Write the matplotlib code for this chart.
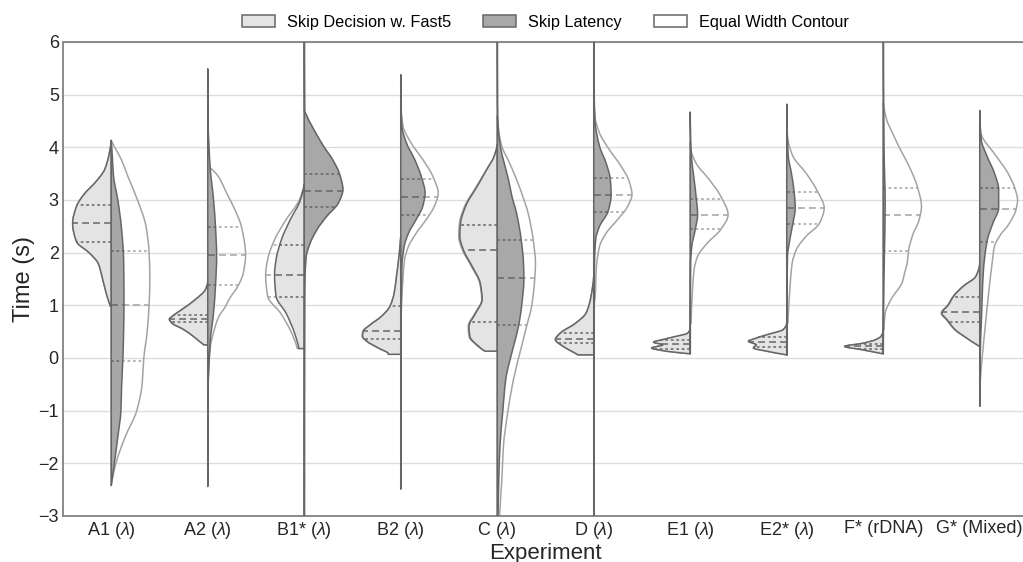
import numpy as np
import matplotlib
matplotlib.use("Agg")
import matplotlib.pyplot as plt
from matplotlib.path import Path
from matplotlib.patches import PathPatch, Patch

plt.rcParams["font.family"] = ["Liberation Sans", "DejaVu Sans"]
plt.rcParams["mathtext.fontset"] = "custom"
plt.rcParams["mathtext.rm"] = "Liberation Sans"
plt.rcParams["mathtext.it"] = "Liberation Sans:italic"

# ---------------------------------------------------------------- data
experiments = ["A1 ($\\lambda$)", "A2 ($\\lambda$)", "B1* ($\\lambda$)", "B2 ($\\lambda$)",
               "C ($\\lambda$)", "D ($\\lambda$)", "E1 ($\\lambda$)", "E2* ($\\lambda$)",
               "F* (rDNA)", "G* (Mixed)"]

# Skip decision with Fast5: density profile (time in s, relative half width)
decision_time = [
    [0.98, 1.23, 1.55, 1.80, 1.99, 2.21, 2.56, 2.88, 3.13, 3.32, 3.58, 3.85, 4.13],
    [0.25, 0.32, 0.41, 0.54, 0.66, 0.74, 0.79, 0.92, 1.11, 1.30, 1.45],
    [0.18, 0.22, 0.47, 0.85, 1.17, 1.58, 1.87, 2.25, 2.63, 3.00, 3.30],
    [0.07, 0.08, 0.19, 0.32, 0.41, 0.51, 0.63, 0.79, 0.98, 1.23, 1.55, 1.90, 2.30],
    [0.13, 0.22, 0.41, 0.60, 0.85, 1.11, 1.42, 1.74, 2.06, 2.31, 2.56, 2.88, 3.26, 3.58, 3.83, 4.05],
    [0.06, 0.10, 0.22, 0.35, 0.47, 0.66, 0.85, 1.17, 1.55],
    [0.08, 0.14, 0.19, 0.25, 0.30, 0.35, 0.41, 0.47, 0.56],
    [0.06, 0.13, 0.19, 0.25, 0.32, 0.36, 0.44, 0.54, 0.66],
    [0.08, 0.16, 0.22, 0.28, 0.35, 0.41, 0.52],
    [0.22, 0.25, 0.38, 0.54, 0.73, 0.85, 1.01, 1.17, 1.36, 1.55, 1.80],
]
decision_width = [
    [0.02, 0.13, 0.24, 0.34, 0.56, 0.90, 1.00, 0.90, 0.68, 0.43, 0.17, 0.06, 0.00],
    [0.10, 0.22, 0.37, 0.62, 0.92, 0.99, 0.92, 0.67, 0.32, 0.06, 0.00],
    [0.14, 0.15, 0.25, 0.47, 0.73, 0.77, 0.73, 0.59, 0.36, 0.10, 0.00],
    [0.32, 0.32, 0.58, 0.88, 0.99, 0.97, 0.79, 0.50, 0.28, 0.17, 0.11, 0.05, 0.00],
    [0.32, 0.48, 0.71, 0.73, 0.56, 0.39, 0.44, 0.65, 0.88, 0.97, 0.95, 0.82, 0.52, 0.27, 0.08, 0.00],
    [0.41, 0.50, 0.79, 0.99, 0.87, 0.47, 0.20, 0.07, 0.00],
    [0.00, 0.71, 1.00, 0.71, 0.95, 0.71, 0.37, 0.07, 0.00],
    [0.00, 0.52, 0.86, 0.79, 0.99, 0.86, 0.52, 0.09, 0.00],
    [0.00, 0.57, 1.00, 0.53, 0.19, 0.06, 0.00],
    [0.00, 0.07, 0.34, 0.64, 0.85, 0.98, 0.81, 0.68, 0.43, 0.10, 0.00],
]
decision_quartiles = [
    [2.21, 2.56, 2.90], [0.69, 0.75, 0.81], [1.16, 1.58, 2.15], [0.37, 0.52, 0.98],
    [0.69, 2.06, 2.53], [0.28, 0.36, 0.47], [0.18, 0.27, 0.34], [0.20, 0.31, 0.39],
    [0.17, 0.22, 0.27], [0.68, 0.88, 1.16],
]

# Skip latency: density profile (count scaled)
latency_time = [
    [-2.42, -2.0, -1.5, -1.0, -0.5, -0.03, 0.5, 1.0, 1.87, 2.5, 3.0, 3.45, 3.8, 4.13],
    [-2.44, -1.5, -0.66, 0.29, 0.86, 1.36, 1.93, 2.5, 3.0, 3.64, 4.5, 5.49],
    [-3.5, 1.0, 1.55, 1.93, 2.18, 2.44, 2.69, 2.94, 3.20, 3.48, 3.77, 4.02, 4.40, 4.62, 4.70, 6.5],
    [-2.49, -1.0, 0.5, 1.74, 2.12, 2.37, 2.63, 2.88, 3.13, 3.45, 3.77, 4.08, 4.40, 5.38],
    [-3.5, -3.0, -2.3, -1.68, -1.04, -0.41, 0.22, 0.60, 0.98, 1.49, 1.80, 2.25, 2.75, 3.07,
     3.39, 3.70, 4.02, 4.33, 4.8, 6.5],
    [-3.5, 1.0, 1.8, 2.25, 2.50, 2.78, 3.10, 3.39, 3.70, 4.02, 4.52, 5.2, 6.5],
    [0.08, 1.0, 1.80, 2.12, 2.44, 2.72, 3.07, 3.45, 3.83, 4.2, 4.67],
    [0.05, 1.0, 1.93, 2.25, 2.56, 2.85, 3.16, 3.51, 3.83, 4.14, 4.82],
    [0.08, 1.0, 2.0, 2.9, 4.0, 6.5],
    [-0.92, 0.28, 0.66, 1.30, 1.61, 1.93, 2.25, 2.56, 2.85, 3.20, 3.51, 3.83, 4.14, 4.70],
]
latency_width = [
    [0.0, 0.08, 0.17, 0.25, 0.27, 0.30, 0.32, 0.33, 0.32, 0.26, 0.17, 0.06, 0.03, 0.0],
    [0.0, 0.005, 0.01, 0.06, 0.15, 0.20, 0.23, 0.20, 0.15, 0.06, 0.01, 0.0],
    [0.005, 0.01, 0.02, 0.05, 0.15, 0.33, 0.58, 0.88, 1.0, 0.92, 0.73, 0.50, 0.20, 0.05, 0.01, 0.005],
    [0.0, 0.005, 0.01, 0.03, 0.09, 0.20, 0.40, 0.57, 0.63, 0.53, 0.36, 0.15, 0.03, 0.0],
    [0.005, 0.02, 0.04, 0.07, 0.14, 0.22, 0.42, 0.55, 0.63, 0.69, 0.68, 0.62, 0.50, 0.38,
     0.29, 0.18, 0.08, 0.03, 0.01, 0.005],
    [0.005, 0.01, 0.02, 0.05, 0.15, 0.37, 0.45, 0.43, 0.32, 0.15, 0.03, 0.01, 0.005],
    [0.0, 0.005, 0.01, 0.04, 0.13, 0.19, 0.15, 0.09, 0.03, 0.01, 0.0],
    [0.0, 0.005, 0.02, 0.08, 0.16, 0.22, 0.19, 0.12, 0.04, 0.02, 0.0],
    [0.0, 0.01, 0.03, 0.05, 0.02, 0.005],
    [0.0, 0.02, 0.04, 0.07, 0.09, 0.13, 0.20, 0.34, 0.49, 0.49, 0.38, 0.19, 0.04, 0.0],
]
latency_quartiles = [
    [-0.05, 1.00, 2.03], [1.39, 1.96, 2.49], [2.87, 3.18, 3.49], [2.72, 3.06, 3.40],
    [0.62, 1.51, 2.25], [2.78, 3.10, 3.42], [2.44, 2.72, 3.02], [2.54, 2.85, 3.16],
    [2.03, 2.72, 3.23], [2.20, 2.83, 3.23],
]

# Skip latency drawn at equal width (outline only)
contour_time = [
    [-2.42, -2.0, -1.5, -1.0, -0.5, -0.03, 0.5, 1.0, 1.5, 2.0, 2.5, 3.0, 3.45, 3.77, 4.0, 4.13],
    [-0.6, -0.16, 0.22, 0.54, 0.79, 0.98, 1.11, 1.39, 1.61, 1.96, 2.5, 2.82, 3.13, 3.45, 3.64],
    [-3.5, 1.0, 1.55, 1.93, 2.18, 2.44, 2.69, 2.94, 3.20, 3.48, 3.77, 4.02, 4.40, 4.62, 4.70, 6.5],
    [0.5, 1.0, 1.55, 1.87, 2.12, 2.37, 2.63, 2.88, 3.13, 3.45, 3.77, 4.08, 4.40, 4.8],
    [-3.5, -3.0, -2.31, -1.68, -1.04, -0.41, 0.22, 0.60, 0.98, 1.49, 1.80, 2.25, 2.75, 3.07,
     3.39, 3.70, 4.02, 4.3, 4.6],
    [1.0, 1.11, 1.74, 2.12, 2.37, 2.63, 2.88, 3.10, 3.35, 3.64, 3.95, 4.27, 4.59, 5.0],
    [0.66, 1.30, 1.68, 1.93, 2.18, 2.44, 2.72, 3.07, 3.39, 3.70, 3.95, 4.1],
    [0.66, 1.30, 1.80, 2.06, 2.31, 2.56, 2.85, 3.16, 3.51, 3.83, 4.14, 4.3],
    [0.54, 0.85, 1.11, 1.45, 1.61, 1.80, 2.06, 2.37, 2.60, 2.88, 3.26, 3.64, 3.95, 4.27,
     4.52, 4.71, 4.85],
    [-0.6, -0.28, 0.22, 0.66, 1.30, 1.80, 2.12, 2.31, 2.56, 2.82, 3.0, 3.20, 3.51, 3.83, 4.27, 4.45],
]
contour_width = [
    [0.0, 0.12, 0.36, 0.66, 0.80, 0.84, 0.93, 0.98, 1.0, 0.98, 0.90, 0.68, 0.43, 0.26, 0.09, 0.0],
    [0.0, 0.03, 0.07, 0.17, 0.29, 0.46, 0.55, 0.80, 0.92, 0.98, 0.87, 0.70, 0.49, 0.27, 0.02],
    [0.005, 0.01, 0.02, 0.05, 0.15, 0.33, 0.58, 0.88, 1.0, 0.92, 0.73, 0.50, 0.20, 0.05, 0.01, 0.005],
    [0.0, 0.02, 0.06, 0.10, 0.20, 0.40, 0.66, 0.87, 0.97, 0.83, 0.57, 0.27, 0.06, 0.0],
    [0.04, 0.06, 0.12, 0.16, 0.27, 0.42, 0.63, 0.76, 0.89, 0.97, 0.99, 0.93, 0.80, 0.66,
     0.50, 0.32, 0.12, 0.04, 0.0],
    [0.0, 0.03, 0.07, 0.15, 0.32, 0.62, 0.88, 0.99, 0.92, 0.71, 0.41, 0.15, 0.03, 0.0],
    [0.02, 0.06, 0.10, 0.19, 0.44, 0.79, 0.98, 0.79, 0.49, 0.15, 0.02, 0.0],
    [0.03, 0.08, 0.14, 0.25, 0.50, 0.85, 0.97, 0.80, 0.50, 0.16, 0.03, 0.0],
    [0.02, 0.05, 0.20, 0.50, 0.55, 0.62, 0.66, 0.78, 0.92, 0.99, 0.88, 0.67, 0.45, 0.24,
     0.09, 0.03, 0.0],
    [0.0, 0.03, 0.09, 0.15, 0.24, 0.32, 0.38, 0.51, 0.77, 0.94, 0.98, 0.92, 0.73, 0.43, 0.03, 0.0],
]

legend_labels = ["Skip Decision w. Fast5", "Skip Latency", "Equal Width Contour"]

# ---------------------------------------------------------------- style
LIGHT = "#e4e4e4"
DARK = "#a8a8a8"
EDGE = "#666666"
CONTOUR = "#a3a3a3"
HALF = 0.4
LW = 1.1
MEDIAN_DASH = (0, (4.5, 2.7))
QUART_DASH = (0, (1.8, 1.8))


def pchip_slopes(x, y):
    x = np.asarray(x, float)
    y = np.asarray(y, float)
    n = len(x)
    h = np.diff(x)
    d = np.diff(y) / h
    m = np.zeros(n)
    for k in range(1, n - 1):
        if d[k - 1] * d[k] > 0:
            w1 = 2 * h[k] + h[k - 1]
            w2 = h[k] + 2 * h[k - 1]
            m[k] = (w1 + w2) / (w1 / d[k - 1] + w2 / d[k])
    if n > 2:
        for end, (h0, h1, d0, d1) in ((0, (h[0], h[1], d[0], d[1])),
                                       (n - 1, (h[-1], h[-2], d[-1], d[-2]))):
            s = ((2 * h0 + h1) * d0 - h0 * d1) / (h0 + h1)
            if np.sign(s) != np.sign(d0):
                s = 0.0
            elif np.sign(d0) != np.sign(d1) and abs(s) > abs(3 * d0):
                s = 3 * d0
            m[end] = s
    else:
        m[:] = d[0]
    return m


def hermite_at(x, y, m, xq):
    x = np.asarray(x, float)
    y = np.asarray(y, float)
    if xq <= x[0]:
        return y[0]
    if xq >= x[-1]:
        return y[-1]
    k = np.searchsorted(x, xq) - 1
    h = x[k + 1] - x[k]
    s = (xq - x[k]) / h
    h00 = 2 * s**3 - 3 * s**2 + 1
    h10 = s**3 - 2 * s**2 + s
    h01 = -2 * s**3 + 3 * s**2
    h11 = s**3 - s**2
    return h00 * y[k] + h10 * h * m[k] + h01 * y[k + 1] + h11 * h * m[k + 1]


def half_violin(ax, center, t, w, side, face, edge, quartiles, line_color, z):
    t = np.asarray(t, float)
    w = np.asarray(w, float)
    m = pchip_slopes(t, w)

    def X(val):
        return center + side * val * HALF

    verts = [(center, t[0]), (X(w[0]), t[0])]
    codes = [Path.MOVETO, Path.LINETO]
    for k in range(len(t) - 1):
        h = t[k + 1] - t[k]
        verts += [(X(w[k] + m[k] * h / 3), t[k] + h / 3),
                  (X(w[k + 1] - m[k + 1] * h / 3), t[k + 1] - h / 3),
                  (X(w[k + 1]), t[k + 1])]
        codes += [Path.CURVE4] * 3
    verts += [(center, t[-1]), (center, t[0])]
    codes += [Path.LINETO, Path.CLOSEPOLY]
    patch = PathPatch(Path(verts, codes), facecolor=face, edgecolor=edge,
                      linewidth=LW, zorder=z, joinstyle="round")
    ax.add_patch(patch)

    for i, q in enumerate(quartiles):
        wq = max(hermite_at(t, w, m, q), 0.0)
        ax.plot([center, X(wq)], [q, q], color=line_color, lw=LW,
                linestyle=MEDIAN_DASH if i == 1 else QUART_DASH,
                zorder=z + 0.5, solid_capstyle="butt", dash_capstyle="butt")


fig = plt.figure(figsize=(10.23, 5.62), dpi=100)
ax = fig.add_axes([63 / 1023, 46 / 562, 965 / 1023, 474 / 562])

for i in range(len(experiments)):
    # equal-width outlines underneath the filled halves
    dw = np.asarray(decision_width[i], float)
    half_violin(ax, i, decision_time[i], dw / dw.max(), -1, "none", CONTOUR,
                decision_quartiles[i], CONTOUR, 1)
    half_violin(ax, i, contour_time[i], contour_width[i], 1, "none", CONTOUR,
                latency_quartiles[i], CONTOUR, 1)
    # filled halves
    half_violin(ax, i, decision_time[i], decision_width[i], -1, LIGHT, EDGE,
                decision_quartiles[i], EDGE, 3)
    half_violin(ax, i, latency_time[i], latency_width[i], 1, DARK, EDGE,
                latency_quartiles[i], EDGE, 3)

ax.set_xlim(-0.5, len(experiments) - 0.5)
ax.set_ylim(-3, 6)
ax.set_xticks(range(len(experiments)))
ax.set_xticklabels(experiments)
ax.set_yticks(range(-3, 7))
ax.tick_params(axis="both", length=0, labelsize=13, colors="#262626", pad=3)
ax.set_axisbelow(True)
ax.yaxis.grid(True, color="#dddddd", lw=1.0)
ax.xaxis.grid(False)
for sp in ax.spines.values():
    sp.set_color("#8a8a8a")
    sp.set_linewidth(1.4)
ax.set_xlabel("Experiment", fontsize=16, color="#262626", labelpad=1)
ax.set_ylabel("Time (s)", fontsize=17, color="#262626", labelpad=2.5)

handles = [Patch(facecolor=LIGHT, edgecolor=EDGE, linewidth=LW),
           Patch(facecolor=DARK, edgecolor=EDGE, linewidth=LW),
           Patch(facecolor="white", edgecolor=EDGE, linewidth=LW)]
ax.legend(handles, legend_labels, loc="center", bbox_to_anchor=(0.5, 1 + 20 / 474),
          ncol=3, frameon=False, fontsize=11.7, handlelength=2.0, handleheight=0.7,
          handletextpad=0.75, columnspacing=2.0, borderaxespad=0)

fig.savefig("out.png", dpi=100, facecolor="white")
